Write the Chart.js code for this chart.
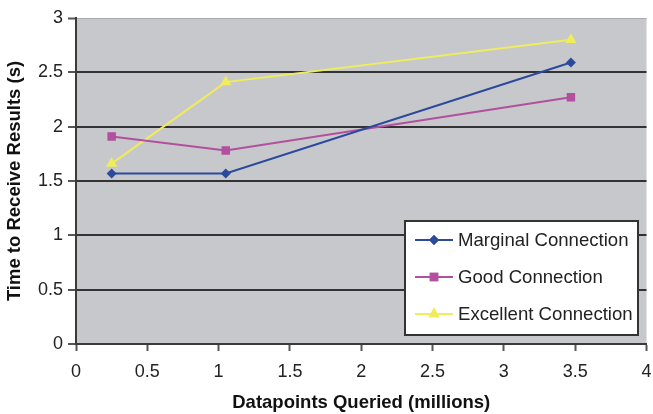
<!DOCTYPE html>
<html>
<head>
<meta charset="utf-8">
<script src="https://cdn.jsdelivr.net/npm/chart.js"></script>
<style>
  html, body { margin: 0; padding: 0; background: #fff; overflow: hidden; }
  #wrap { width: 653px; height: 414px; }
</style>
</head>
<body>
<div id="wrap"><canvas id="myChart" width="653" height="414"></canvas></div>
<script>
// values
const datapoints = [0.25, 1.05, 3.47];
const marginal = [1.57, 1.57, 2.59];
const good = [1.91, 1.78, 2.27];
const excellent = [1.66, 2.41, 2.80];
const seriesNames = ["Marginal Connection", "Good Connection", "Excellent Connection"];
const yTicks = [0, 0.5, 1, 1.5, 2, 2.5, 3];
const xTicks = [0, 0.5, 1, 1.5, 2, 2.5, 3, 3.5, 4];

const FONT = "'Liberation Sans', Arial, sans-serif";

function toPoints(ys) {
    return datapoints.map((x, i) => ({ x: x, y: ys[i] }));
}

// gray plot background
const plotBg = {
    id: 'plotBg',
    beforeDraw(chart) {
        const a = chart.chartArea;
        const ctx = chart.ctx;
        ctx.save();
        ctx.fillStyle = '#c7c8cc';
        ctx.fillRect(a.left, a.top, a.right - a.left, a.bottom - a.top);
        ctx.restore();
    }
};

// legend box inside the plot, lower right
const boxLegend = {
    id: 'boxLegend',
    afterDraw(chart) {
        const ctx = chart.ctx;
        const x0 = 405, y0 = 221, w = 233, h = 114;
        ctx.save();
        ctx.fillStyle = '#ffffff';
        ctx.fillRect(x0, y0, w, h);
        ctx.strokeStyle = '#333';
        ctx.lineWidth = 2;
        ctx.strokeRect(x0, y0, w, h);
        ctx.font = '18.6px ' + FONT;
        ctx.textBaseline = 'middle';
        chart.data.datasets.forEach((ds, i) => {
            const yy = 240 + i * 37;
            ctx.strokeStyle = ds.borderColor;
            ctx.lineWidth = 2;
            ctx.beginPath();
            ctx.moveTo(415, yy);
            ctx.lineTo(453, yy);
            ctx.stroke();
            ctx.fillStyle = ds.pointBackgroundColor;
            Chart.helpers.drawPoint(ctx, {
                pointStyle: ds.pointStyle,
                radius: ds.pointRadius,
                borderWidth: 0,
                rotation: 0
            }, 434, yy);
            ctx.fill();
            ctx.fillStyle = '#222';
            ctx.fillText(ds.label, 458, yy + 1);
        });
        ctx.restore();
    }
};

var ctx = document.getElementById('myChart').getContext('2d');
var chart = new Chart(ctx, {
    type: 'line',
    data: {
        datasets: [{
            label: seriesNames[0],
            data: toPoints(marginal),
            borderColor: '#2c4a9c',
            backgroundColor: '#2c4a9c',
            pointBackgroundColor: '#2c4a9c',
            pointBorderWidth: 0,
            pointStyle: 'rectRot',
            pointRadius: 5,
            borderWidth: 2
        }, {
            label: seriesNames[1],
            data: toPoints(good),
            borderColor: '#b2509e',
            backgroundColor: '#b2509e',
            pointBackgroundColor: '#b2509e',
            pointBorderWidth: 0,
            pointStyle: 'rect',
            pointRadius: 6,
            borderWidth: 2
        }, {
            label: seriesNames[2],
            data: toPoints(excellent),
            borderColor: '#f0ec5c',
            backgroundColor: '#f0ec5c',
            pointBackgroundColor: '#f0ec5c',
            pointBorderWidth: 0,
            pointStyle: 'triangle',
            pointRadius: 6.5,
            borderWidth: 2
        }]
    },
    options: {
        responsive: false,
        animation: false,
        layout: { padding: { top: 18, right: 2, left: 0, bottom: 0 } },
        plugins: {
            legend: { display: false },
            tooltip: { enabled: false }
        },
        scales: {
            x: {
                type: 'linear',
                min: 0,
                max: 4,
                afterBuildTicks: s => { s.ticks = xTicks.map(v => ({ value: v })); },
                afterFit: s => { s.height = 70; s.paddingLeft = 0; s.paddingRight = 0; },
                border: { color: '#3a3a3a', width: 2 },
                grid: { drawOnChartArea: false, tickLength: 7, tickColor: '#555', tickWidth: 2 },
                ticks: {
                    color: '#222', font: { family: FONT, size: 18 }, padding: 10,
                    maxRotation: 0, autoSkip: false, callback: v => String(v)
                },
                title: {
                    display: true,
                    text: 'Datapoints Queried (millions)',
                    color: '#111',
                    font: { family: FONT, size: 18.5, weight: 'bold' },
                    padding: 0
                }
            },
            y: {
                min: 0,
                max: 3,
                afterBuildTicks: s => { s.ticks = yTicks.map(v => ({ value: v })); },
                afterFit: s => { s.width = 76; s.paddingTop = 0; s.paddingBottom = 0; },
                border: { color: '#3a3a3a', width: 2 },
                grid: {
                    color: c => (c.tick && c.tick.value === 3) ? '#a9a9ad' : '#333',
                    lineWidth: c => (c.tick && c.tick.value === 3) ? 1 : 2,
                    tickLength: 8,
                    tickColor: '#555',
                    tickWidth: 2
                },
                ticks: {
                    color: '#222', font: { family: FONT, size: 18 }, padding: 5,
                    autoSkip: false, callback: v => String(v)
                },
                title: {
                    display: true,
                    text: 'Time to Receive Results (s)',
                    color: '#111',
                    font: { family: FONT, size: 18.5, weight: 'bold' },
                    padding: { top: 4, bottom: 0 }
                }
            }
        }
    },
    plugins: [plotBg, boxLegend]
});
</script>
</body>
</html>
